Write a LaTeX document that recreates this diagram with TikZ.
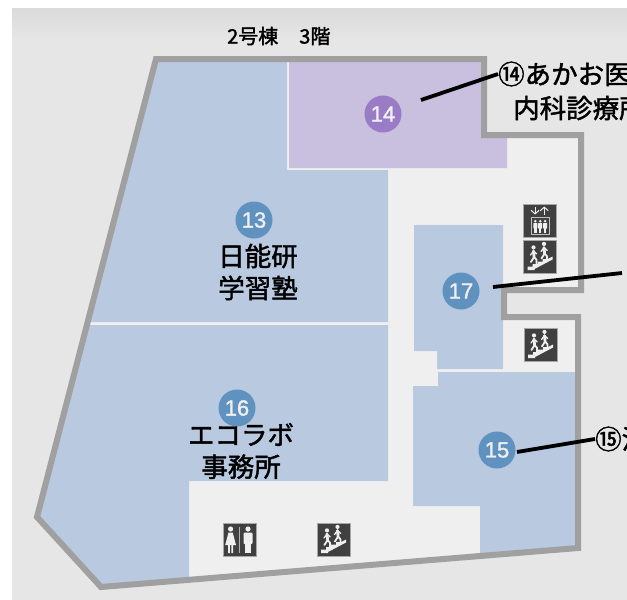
\documentclass[tikz,border=0pt]{standalone}
\usepackage{fontspec}
\setmainfont{Noto Sans CJK JP}
\newfontfamily\labelfont{Noto Sans CJK JP}[FakeBold=1.6]
\newfontfamily\badgefont{Liberation Sans}[FakeBold=1.6]
\usetikzlibrary{arrows.meta}
\definecolor{wallgray}{HTML}{A0A0A0}
\definecolor{floorgray}{HTML}{EFEFEF}
\definecolor{groundgray}{HTML}{E6E6E6}
\definecolor{topgray}{HTML}{DADADA}
\definecolor{unitblue}{HTML}{B8C9E0}
\definecolor{unitpurple}{HTML}{C9BFDE}
\definecolor{badgeblue}{HTML}{6092C0}
\definecolor{badgepurple}{HTML}{9A7BC6}
\definecolor{icongray}{HTML}{404040}
\tikzset{
  unitA/.style={fill=unitblue,draw=none},
  unitB/.style={fill=unitpurple,draw=none},
  badge/.style={circle,fill=badgeblue,text=floorgray,minimum size=37pt,inner sep=0pt,font=\badgefont\fontsize{22}{22}\selectfont},
  roomtext/.style={align=center,text=black,font=\labelfont\fontsize{26.5}{32}\selectfont,inner sep=0pt},
  sidetext/.style={anchor=west,text=black,font=\labelfont\fontsize{26.5}{32}\selectfont,inner sep=0pt},
  leader/.style={draw=black,line width=3.8pt},
  iconbox/.style={fill=icongray,draw=gray!70,line width=0.6pt},
  pics/walker/.style={code={
    \fill[floorgray] (0,-8.6) circle (2.1);
    \draw[floorgray,line width=2.8pt,line cap=round] (0,-5) -- (0.6,1);
    \draw[floorgray,line width=1.8pt,line cap=round] (0.6,1) -- (-2.6,6) (0.6,1) -- (3,3.8) -- (3,8);
    \draw[floorgray,line width=1.3pt,line cap=round] (0,-5) -- (-3,-1) (0,-5) -- (3.2,-2);
  }},
  pics/stairsicon/.style={code={
    \fill[iconbox] (0,0) rectangle (33,33);
    \fill[floorgray] (4,30) -- (4,26.5) -- (9,26.5) -- (9,24) -- (14,24) -- (14,21.5) -- (19,21.5) -- (19,19) -- (24,19) -- (29,16.5) -- (29,19.5) -- (11,29) -- (11,30) -- cycle;
    \pic at (10,16) {walker};
    \pic at (20.5,12.5) {walker};
  }},
  pics/lifticon/.style={code={
    \fill[iconbox] (0,0) rectangle (33,33);
    \draw[floorgray,line width=1pt,-{Straight Barb[length=3.5pt,width=8pt]}] (11.6,2.5) -- (11.6,10.5);
    \draw[floorgray,line width=1pt,-{Straight Barb[length=3.5pt,width=8pt]}] (20.8,10.5) -- (20.8,2.5);
    \draw[floorgray!80!black,line width=1.2pt] (7.7,13.3) rectangle (25.7,30.4);
    \foreach \px in {11.8,16.7,21.6}{
      \fill[floorgray] (\px,17.2) circle (1.4);
      \fill[floorgray,rounded corners=0.5pt] (\px-2,19) rectangle (\px+2,24.5);
      \fill[floorgray] (\px-1.2,24) rectangle (\px+1.2,28.6);
    }
  }},
  pics/wcicon/.style={code={
    \fill[iconbox] (0,0) rectangle (33,33);
    \fill[floorgray] (7.6,6) circle (2.6);
    \fill[floorgray] (5.5,9.5) -- (9.7,9.5) -- (13,22) -- (10,22) -- (10,30) -- (8.4,30) -- (8.4,22) -- (6.8,22) -- (6.8,30) -- (5.2,30) -- (5.2,22) -- (2.2,22) -- cycle;
    \draw[floorgray!75!black,line width=0.7pt] (16.3,4) -- (16.3,29.5);
    \fill[floorgray] (25,6) circle (2.6);
    \fill[floorgray,rounded corners=1pt] (20.5,9.5) rectangle (29.5,21);
    \fill[floorgray] (22,19) rectangle (24.7,30);
    \fill[floorgray] (25.3,19) rectangle (28,30);
  }}
}
\begin{document}
\begin{tikzpicture}[x=1pt,y=-1pt]
\useasboundingbox (0,0) rectangle (627,600);
\clip (0,0) rectangle (627,600);
\fill[white] (0,0) rectangle (627,600);
\fill[groundgray] (12,8) rectangle (627,600);
\shade[top color=topgray,bottom color=groundgray] (12,8) rectangle (627,40);
% floor
\path[fill=floorgray] (156,59) -- (484,59) -- (484,135) -- (581,135) -- (581,290) -- (504,290) -- (504,317) -- (578,317) -- (578,548) -- (101,587) -- (37,517) -- cycle;
% units
\path[unitB] (289,61) -- (482,61) -- (482,138) -- (507,138) -- (507,168) -- (289,168) -- cycle;
\path[unitA] (156,59) -- (287,59) -- (287,170) -- (388,170) -- (388,322) -- (90,322) -- cycle;
\path[unitA] (89,325) -- (388,325) -- (388,481) -- (189,481) -- (189,581) -- (101,587) -- (37,517) -- cycle;
\path[unitA] (414,225) -- (503,225) -- (503,369) -- (437,369) -- (437,351) -- (414,351) -- cycle;
\path[unitA] (413,386) -- (438,386) -- (438,372) -- (576,372) -- (576,548) -- (480,555) -- (480,506) -- (413,506) -- cycle;
% wall
\draw[wallgray,line width=6pt,miter limit=10] (156,59) -- (484,59) -- (484,135) -- (581,135) -- (581,290) -- (504,290) -- (504,317) -- (578,317) -- (578,548) -- (101,587) -- (37,517) -- cycle;
% icons
\pic at (523.5,204) {lifticon};
\pic at (523.5,240) {stairsicon};
\pic at (524,328) {stairsicon};
\pic at (223,523) {wcicon};
\pic at (317,523) {stairsicon};
% badges
\node[badge,fill=badgepurple] (b14) at (383,114) {14};
\node[badge] (b13) at (254,220) {13};
\node[badge] (b16) at (237,408) {16};
\node[badge] (b17) at (461,291) {17};
\node[badge] (b15) at (497,450) {15};
% texts
\node[font=\labelfont\fontsize{20}{20}\selectfont,anchor=west,inner sep=0pt] (title) at (227,36) {2号棟\hspace{21pt}3階};
\node[roomtext] (r13) at (258,272) {日能研\\学習塾};
\node[roomtext] (r16) at (241,451) {エコラボ\\事務所};
\node[sidetext] (r14) at (498,74) {⑭あかお医};
\node[sidetext] (r14b) at (513,108) {内科診療所};
\node[sidetext] (r15) at (595,439) {⑮渋};
% leaders
\coordinate (a14) at (421,100);
\coordinate (a17) at (493,287);
\coordinate (e17) at (622,273);
\coordinate (a15) at (517,452);
\draw[leader] (a14) -- (r14.west);
\draw[leader] (a17) -- (e17);
\draw[leader] (a15) -- (r15.west);
\end{tikzpicture}
\end{document}
